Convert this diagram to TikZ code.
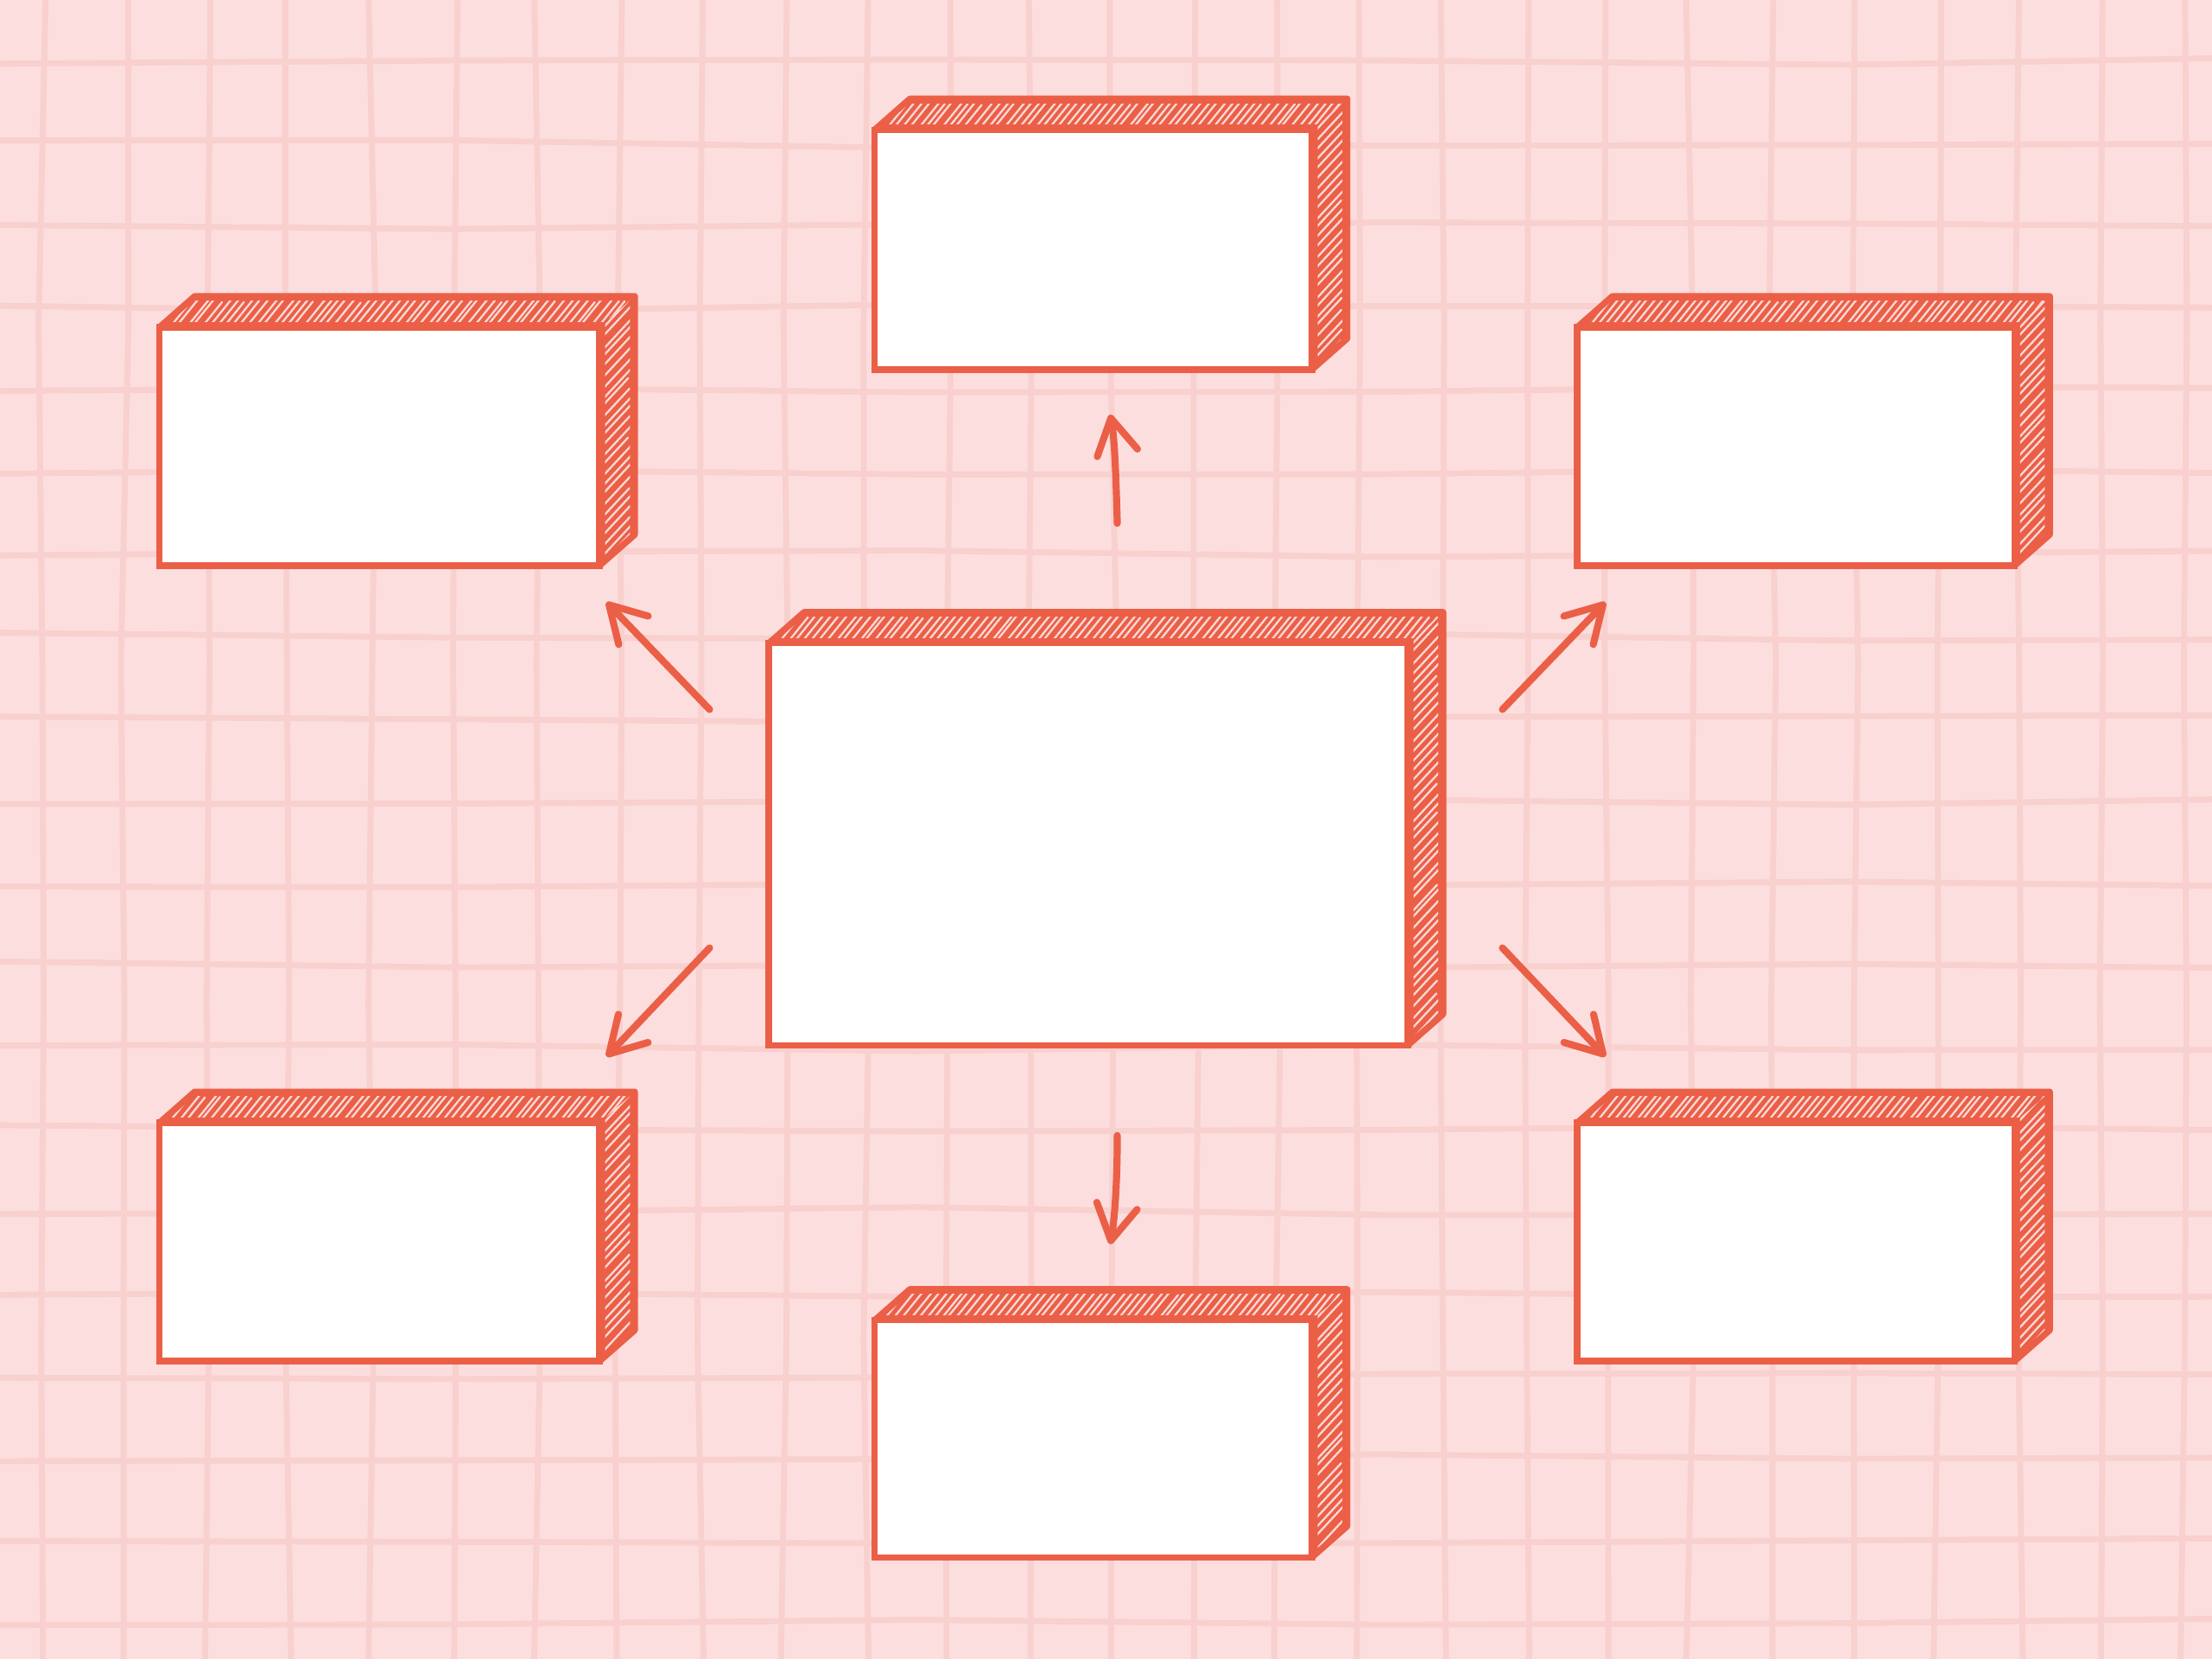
\documentclass[tikz,border=0pt]{standalone}
\usetikzlibrary{arrows.meta}
\definecolor{bg}{HTML}{FDDEDF}
\definecolor{gridc}{HTML}{F8D0CE}
\definecolor{ink}{HTML}{EB5F47}
\definecolor{hatchc}{HTML}{FCD9D6}
\tikzset{
  gridline/.style={gridc, line width=0.42mm, line cap=round, line join=round},
  outline/.style={ink, line width=0.45mm, line join=round, line cap=round},
  frontbox/.style={draw=ink, fill=white, line width=0.45mm, rectangle, inner sep=0pt, outer sep=0pt},
  hatchline/.style={hatchc, line width=0.14mm, line cap=round},
  flow/.style={ink, line width=0.5mm, line cap=round, -{Straight Barb[length=2.5mm, width=2.9mm, round]}}
}
\newcommand\tdbox[5]{%
  % #1 name, (#2,#3) front top-left, (#4,#5) front bottom-right
  \fill[ink] (#2,#3) -- ({#2+25},{#3-22}) -- ({#4+25},{#3-22}) -- ({#4+25},{#5-22}) -- (#4,#5) -- cycle;
  \pgfmathsetmacro\hta{#2}
  \pgfmathsetmacro\htb{#2+5.5}
  \pgfmathsetmacro\htc{#4+30}
  \begin{scope}
    \clip (#2,#3) -- ({#2+25},{#3-22}) -- ({#4+25},{#3-22}) -- (#4,#3) -- cycle;
    \clip ({#2},{#3-18.5}) rectangle ({#4+22},{#3-4});
    \foreach \t in {\hta,\htb,...,\htc}{
      \pgfmathsetmacro\hs{\t+1.2*rand}
      \pgfmathsetmacro\hl{0.75+0.25*rnd}
      \draw[hatchline] (\hs,{#3+2}) -- ++({21*\hl},{-26*\hl});
    }
  \end{scope}
  \pgfmathsetmacro\hva{#3-20}
  \pgfmathsetmacro\hvb{#3-13}
  \pgfmathsetmacro\hvc{#5+10}
  \begin{scope}
    \clip (#4,#3) -- ({#4+25},{#3-22}) -- ({#4+25},{#5-22}) -- (#4,#5) -- cycle;
    \clip ({#4+4},{#3-20}) rectangle ({#4+21.5},{#5-2});
    \foreach \t in {\hva,\hvb,...,\hvc}{
      \pgfmathsetmacro\hs{\t+1.5*rand}
      \pgfmathsetmacro\hl{0.7+0.3*rnd}
      \draw[hatchline] ({#4+2},\hs) -- ++({26*\hl},{-28*\hl});
    }
  \end{scope}
  \draw[outline] (#2,#3) -- ({#2+25},{#3-22}) -- ({#4+25},{#3-22}) -- ({#4+25},{#5-22}) -- (#4,#5);
  \pgfmathsetmacro\bw{(#4-#2)*0.1}
  \pgfmathsetmacro\bh{(#5-#3)*0.1}
  \node[frontbox, minimum width=\bw mm, minimum height=\bh mm] (#1) at ({(#2+#4)/2},{(#3+#5)/2}) {};
}
\begin{document}
\begin{tikzpicture}[x=0.1mm,y=-0.1mm]
\fill[bg] (0,0) rectangle (1568,1176);
\useasboundingbox (0,0) rectangle (1568,1176);
\pgfmathsetseed{4711}
\begin{scope}
  \clip (0,0) rectangle (1568,1176);
  \foreach \i in {0,...,26}{
    \pgfmathsetmacro\xo{30+58.4*\i}
    \pgfmathsetmacro\ga{\xo+3*rand}
    \pgfmathsetmacro\gb{\xo+3*rand}
    \pgfmathsetmacro\gc{\xo+3*rand}
    \pgfmathsetmacro\gd{\xo+3*rand}
    \pgfmathsetmacro\ge{\xo+3*rand}
    \pgfmathsetmacro\gf{\xo+3*rand}
    \draw[gridline] (\ga,-10) -- (\gb,230) -- (\gc,470) -- (\gd,710) -- (\ge,950) -- (\gf,1190);
  }
  \foreach \j in {0,...,19}{
    \pgfmathsetmacro\yo{44+58.2*\j}
    \pgfmathsetmacro\ga{\yo+3*rand}
    \pgfmathsetmacro\gb{\yo+3*rand}
    \pgfmathsetmacro\gc{\yo+3*rand}
    \pgfmathsetmacro\gd{\yo+3*rand}
    \pgfmathsetmacro\ge{\yo+3*rand}
    \pgfmathsetmacro\gf{\yo+3*rand}
    \draw[gridline] (-10,\ga) -- (320,\gb) -- (650,\gc) -- (980,\gd) -- (1310,\ge) -- (1580,\gf);
  }
\end{scope}

\tdbox{top}{620}{92}{930}{262}
\tdbox{tl}{113}{232}{425}{401}
\tdbox{tr}{1118}{232}{1428}{401}
\tdbox{center}{545}{456}{998}{741}
\tdbox{bl}{113}{796}{425}{965}
\tdbox{br}{1118}{796}{1428}{965}
\tdbox{bottom}{620}{936}{930}{1104}

\coordinate (u0) at (792,371);
\coordinate (u1) at (787,294);
\coordinate (d0) at (792,805);
\coordinate (d1) at (787,882);
\coordinate (ul0) at (503,503);
\coordinate (ul1) at (430,427);
\coordinate (ur0) at (1065,503);
\coordinate (ur1) at (1138,427);
\coordinate (dl0) at (503,672);
\coordinate (dl1) at (430,749);
\coordinate (dr0) at (1065,672);
\coordinate (dr1) at (1138,749);

\draw[flow] (u0) .. controls (791,335) and (790,310) .. (u1);
\draw[flow] (d0) .. controls (792,840) and (790,865) .. (d1);
\draw[flow] (ul0) -- (ul1);
\draw[flow] (ur0) -- (ur1);
\draw[flow] (dl0) -- (dl1);
\draw[flow] (dr0) -- (dr1);
\end{tikzpicture}
\end{document}
